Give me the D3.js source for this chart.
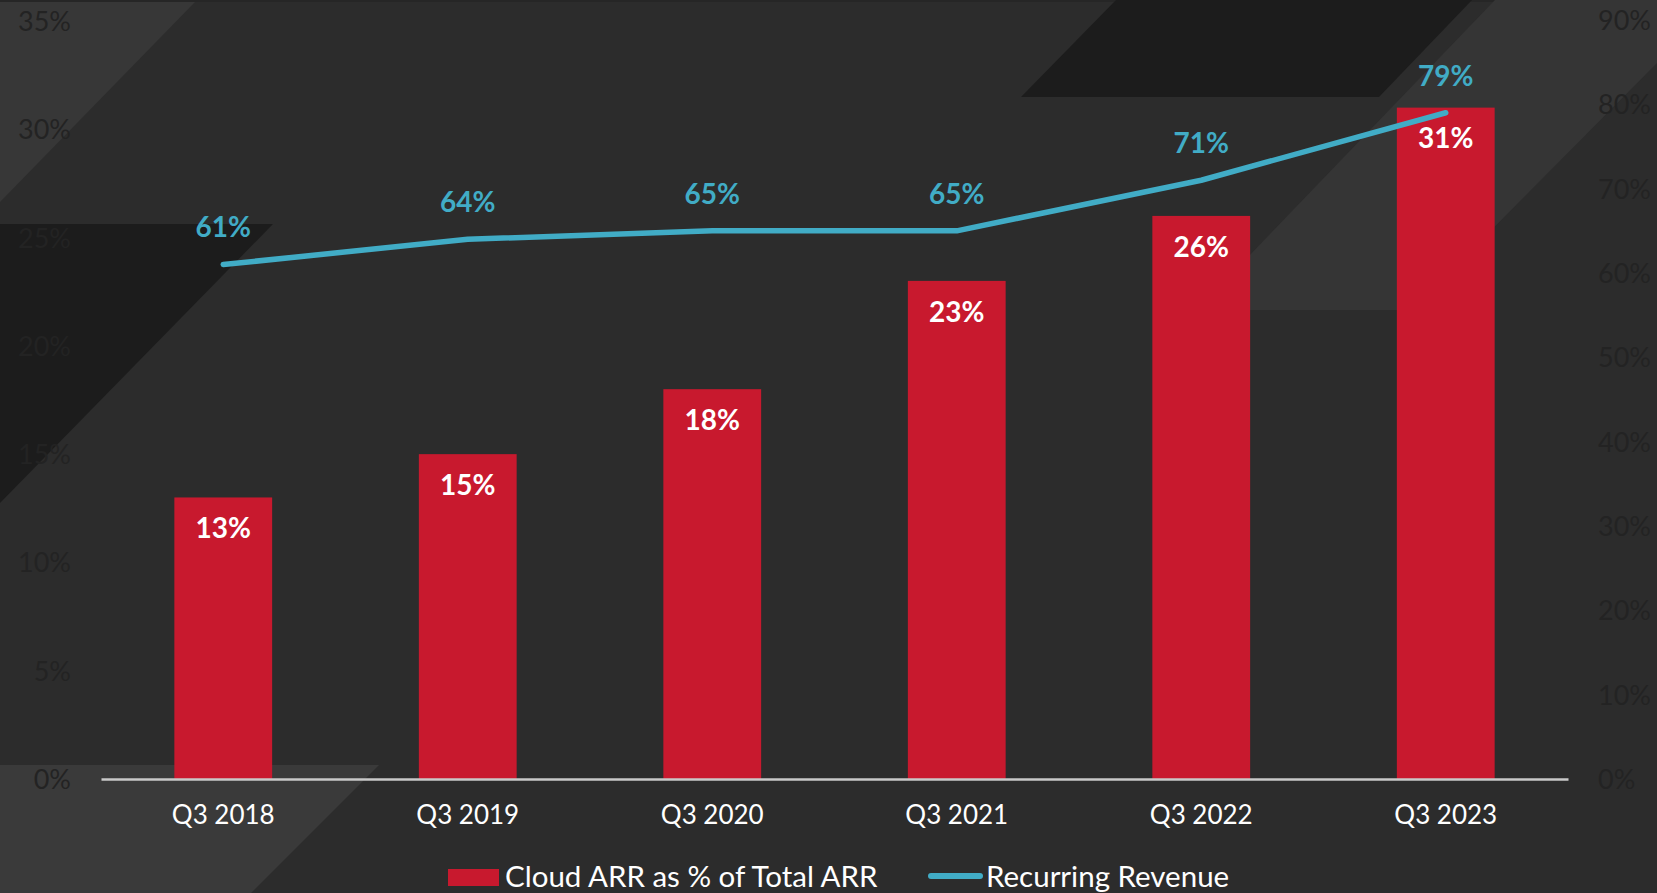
<!DOCTYPE html>
<html>
<head>
<meta charset="utf-8">
<script src="https://cdn.jsdelivr.net/npm/d3@7"></script>
<style>
  html, body { margin: 0; padding: 0; background: #2c2c2c; overflow: hidden; }
  svg { display: block; }
  text { font-family: Lato, "Open Sans", sans-serif; }
</style>
</head>
<body>
<svg id="chart" width="1657" height="893"></svg>
<script>
const categories = ["Q3 2018", "Q3 2019", "Q3 2020", "Q3 2021", "Q3 2022", "Q3 2023"];
const cloudArr = [13, 15, 18, 23, 26, 31];
const recurringRevenue = [61, 64, 65, 65, 71, 79];
const leftTicks = [0, 5, 10, 15, 20, 25, 30, 35];
const rightTicks = [0, 10, 20, 30, 40, 50, 60, 70, 80, 90];
const seriesNames = ["Cloud ARR as % of Total ARR", "Recurring Revenue"];

const W = 1657, H = 893;
const svg = d3.select("#chart");

// background decorative shapes
const bg = svg.append("g");
bg.append("rect").attr("width", W).attr("height", H).attr("fill", "#2c2c2c");
bg.append("rect").attr("width", W).attr("height", 2).attr("fill", "#262626");
const shapes = [
  {pts: [[0,2],[195,2],[0,202]], fill: "#373737"},
  {pts: [[0,224],[273,224],[0,503]], fill: "#1c1c1c"},
  {pts: [[0,765],[379,765],[251,893],[0,893]], fill: "#3a3a3a"},
  {pts: [[1116,0],[1472,0],[1379,97],[1021,97]], fill: "#1c1c1c"},
  {pts: [[1495,0],[1657,0],[1657,63],[1412,310],[1197,310]], fill: "#353535"}
];
bg.selectAll("polygon.bgshape").data(shapes).join("polygon")
  .attr("class", "bgshape")
  .attr("points", d => d.pts.map(p => p.join(",")).join(" "))
  .attr("fill", d => d.fill);

const x = d3.scaleBand().domain(categories).range([101, 1568]).paddingInner(0.6).paddingOuter(0.3);
const yL = d3.scaleLinear().domain([0, 35]).range([779, 21]);
const yR = d3.scaleLinear().domain([0, 90]).range([779, 20]);

// left axis
const axL = svg.append("g").attr("transform", "translate(71,0)")
  .call(d3.axisLeft(yL).tickValues(leftTicks).tickSize(0).tickPadding(0).tickFormat(d => d + "%"));
axL.select(".domain").remove();
axL.selectAll("text").attr("fill", "#232323").style("font-size", "27px").style("font-family", "Lato, sans-serif").attr("dy", "0.35em");

// right axis
const axR = svg.append("g").attr("transform", "translate(1598,0)")
  .call(d3.axisRight(yR).tickValues(rightTicks).tickSize(0).tickPadding(0).tickFormat(d => d + "%"));
axR.select(".domain").remove();
axR.selectAll("text").attr("fill", "#232323").style("font-size", "27px").style("font-family", "Lato, sans-serif").attr("dy", "0.35em");

// bars
const data = categories.map((c, i) => ({c, bar: cloudArr[i], line: recurringRevenue[i]}));
svg.append("g").selectAll("rect").data(data).join("rect")
  .attr("x", d => x(d.c))
  .attr("width", x.bandwidth())
  .attr("y", d => yL(d.bar))
  .attr("height", d => yL(0) - yL(d.bar))
  .attr("fill", "#c8192e");

// x axis
const axB = svg.append("g").attr("transform", "translate(0,779)")
  .call(d3.axisBottom(x).tickSize(0).tickPadding(0).tickSizeOuter(0));
axB.select(".domain").attr("stroke", "#c9c9c9").attr("stroke-width", 2.5);
axB.selectAll("text").attr("fill", "#ffffff").style("font-size", "26px").style("font-family", "Lato, sans-serif")
  .attr("y", 36).attr("dy", "0.35em");

// bar labels
svg.append("g").selectAll("text").data(data).join("text")
  .attr("x", d => x(d.c) + x.bandwidth() / 2)
  .attr("y", d => yL(d.bar) + 31)
  .attr("dy", "0.35em")
  .attr("text-anchor", "middle")
  .attr("fill", "#ffffff")
  .style("font-size", "28px").style("font-weight", "bold")
  .text(d => d.bar + "%");

// line
const line = d3.line().x(d => x(d.c) + x.bandwidth() / 2).y(d => yR(d.line));
svg.append("path").datum(data)
  .attr("d", line)
  .attr("fill", "none")
  .attr("stroke", "#41acc6")
  .attr("stroke-width", 5.5)
  .attr("stroke-linecap", "round")
  .attr("stroke-linejoin", "round");

svg.append("g").selectAll("text").data(data).join("text")
  .attr("x", d => x(d.c) + x.bandwidth() / 2)
  .attr("y", d => yR(d.line) - 37)
  .attr("dy", "0.35em")
  .attr("text-anchor", "middle")
  .attr("fill", "#41acc6")
  .style("font-size", "28px").style("font-weight", "bold")
  .text(d => d.line + "%");

// legend
const lg = svg.append("g");
lg.append("rect").attr("x", 448).attr("y", 869).attr("width", 51).attr("height", 17).attr("fill", "#c8192e");
lg.append("text").attr("x", 505).attr("y", 877).attr("dy", "0.35em").attr("fill", "#ffffff")
  .style("font-size", "29.5px").text(seriesNames[0]);
lg.append("line").attr("x1", 931).attr("x2", 980).attr("y1", 876).attr("y2", 876)
  .attr("stroke", "#41acc6").attr("stroke-width", 6).attr("stroke-linecap", "round");
lg.append("text").attr("x", 986).attr("y", 877).attr("dy", "0.35em").attr("fill", "#ffffff")
  .style("font-size", "29.5px").text(seriesNames[1]);
</script>
</body>
</html>
